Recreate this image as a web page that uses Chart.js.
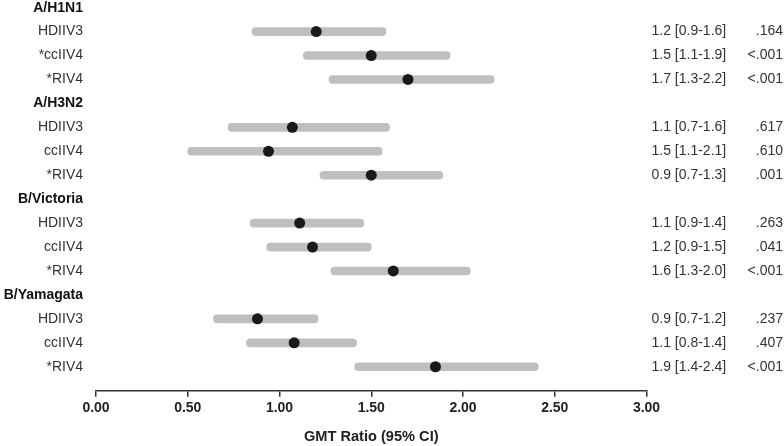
<!DOCTYPE html>
<html>
<head>
<meta charset="utf-8">
<script src="https://cdn.jsdelivr.net/npm/chart.js@4/dist/chart.umd.min.js"></script>
<style>
  html, body { margin: 0; padding: 0; background: #fff; }
  #wrap { width: 784px; height: 446px; }
</style>
</head>
<body>
<div id="wrap"><canvas id="chart"></canvas></div>
<script>
let groups = ['A/H1N1', 'A/H3N2', 'B/Victoria', 'B/Yamagata']
let vaccines = [
  ['HDIIV3', '*ccIIV4', '*RIV4'],
  ['HDIIV3', 'ccIIV4', '*RIV4'],
  ['HDIIV3', 'ccIIV4', '*RIV4'],
  ['HDIIV3', 'ccIIV4', '*RIV4']
]
let ratio = [1.20, 1.50, 1.70, 1.07, 0.94, 1.50, 1.11, 1.18, 1.62, 0.88, 1.08, 1.85]
let lower = [0.85, 1.13, 1.27, 0.72, 0.50, 1.22, 0.84, 0.93, 1.28, 0.64, 0.82, 1.41]
let upper = [1.58, 1.93, 2.17, 1.60, 1.56, 1.89, 1.46, 1.50, 2.04, 1.21, 1.42, 2.41]
let ciText = ['1.2 [0.9-1.6]', '1.5 [1.1-1.9]', '1.7 [1.3-2.2]',
  '1.1 [0.7-1.6]', '1.5 [1.1-2.1]', '0.9 [0.7-1.3]',
  '1.1 [0.9-1.4]', '1.2 [0.9-1.5]', '1.6 [1.3-2.0]',
  '0.9 [0.7-1.2]', '1.1 [0.8-1.4]', '1.9 [1.4-2.4]']
let pText = ['.164', '<.001', '<.001', '.617', '.610', '.001',
  '.263', '.041', '<.001', '.237', '.407', '<.001']
let xTicks = [0, 0.5, 1, 1.5, 2, 2.5, 3]

// row index on the y scale: each group has a header row then its vaccines
let rows = []
let headers = []
groups.forEach((g, gi) => {
  headers.push({ text: g, y: rows.length + headers.length })
  vaccines[gi].forEach((v) => {
    rows.push({ label: v, y: rows.length + headers.length })
  })
})

let barData = rows.map((r, i) => ({ x: [lower[i], upper[i]], y: r.y }))
let dotData = rows.map((r, i) => ({ x: ratio[i], y: r.y }))

// side texts: labels on the left, CI and p on the right
const sideText = {
  id: 'sideText',
  afterDraw(chart) {
    let ctx = chart.ctx
    let area = chart.chartArea
    let ys = chart.scales.y
    ctx.save()
    ctx.textBaseline = 'middle'
    headers.forEach((h) => {
      ctx.font = 'bold 14px "Liberation Sans", Arial, sans-serif'
      ctx.fillStyle = '#111'
      ctx.textAlign = 'right'
      ctx.fillText(h.text, area.left - 13, ys.getPixelForValue(h.y))
    })
    rows.forEach((r, i) => {
      let y = ys.getPixelForValue(r.y)
      ctx.font = '14px "Liberation Sans", Arial, sans-serif'
      ctx.fillStyle = '#333'
      ctx.textAlign = 'right'
      ctx.fillText(r.label, area.left - 13, y)
      ctx.textAlign = 'left'
      ctx.fillText(ciText[i], area.right + 5, y)
      ctx.textAlign = 'right'
      ctx.fillText(pText[i], 783, y)
    })
    ctx.restore()
  }
}

const config = {
  type: 'bar',
  plugins: [sideText],
  data: {
    datasets: [{
      type: 'scatter',
      data: dotData,
      order: 1,
      pointRadius: 5.5,
      pointBackgroundColor: '#1a1a1a',
      pointBorderWidth: 0
    }, {
      type: 'bar',
      data: barData,
      order: 2,
      backgroundColor: '#bfbfbf',
      barThickness: 8,
      borderRadius: 4,
      borderSkipped: false
    }]
  },
  options: {
    indexAxis: 'y',
    responsive: true,
    maintainAspectRatio: false,
    animation: false,
    layout: {
      padding: { left: 96, right: 137.5, top: 0, bottom: 0 }
    },
    scales: {
      x: {
        type: 'linear',
        min: 0,
        max: 3,
        afterBuildTicks: (scale) => { scale.ticks = xTicks.map(v => ({ value: v })) },
        ticks: {
          callback: (v) => Number(v).toFixed(2),
          font: { family: '"Liberation Sans", Arial, sans-serif', size: 14, weight: 'bold' },
          color: '#222',
          padding: 3,
          maxRotation: 0
        },
        grid: { drawOnChartArea: false, drawTicks: true, tickLength: 6, color: '#333', lineWidth: 1.5 },
        border: { color: '#333', width: 1.5 },
        title: {
          display: true,
          text: 'GMT Ratio (95% CI)',
          font: { family: '"Liberation Sans", Arial, sans-serif', size: 14.6, weight: 'bold' },
          color: '#222',
          padding: { top: 9, bottom: 0 }
        }
      },
      y: {
        type: 'linear',
        display: false,
        offset: false,
        grace: 0,
        reverse: true,
        min: -0.09,
        max: 16
      }
    },
    plugins: {
      legend: { display: false },
      tooltip: { enabled: false }
    }
  }
}

const chart = new Chart(document.getElementById('chart'), config)
</script>
</body>
</html>
